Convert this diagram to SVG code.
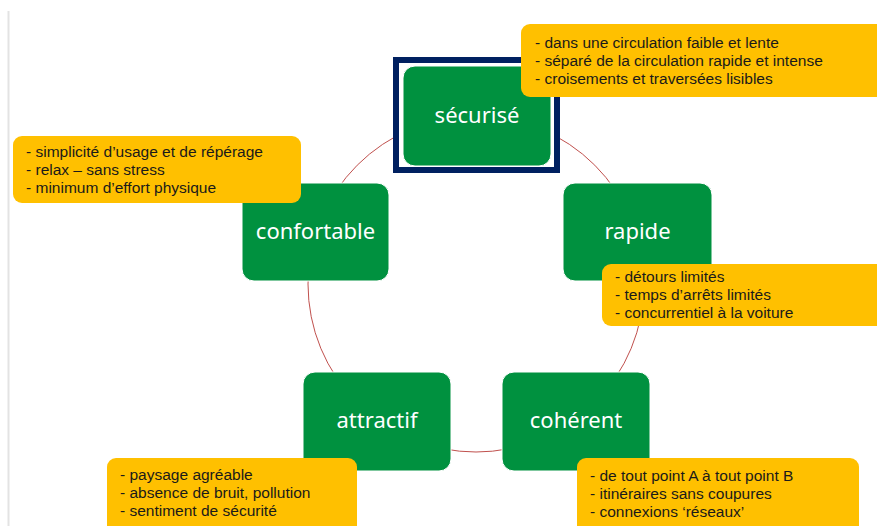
<svg xmlns="http://www.w3.org/2000/svg" width="877" height="526" viewBox="0 0 877 526">
<style>
.g{fill:#00913f;stroke:#ffffff;stroke-width:1}
.y{fill:#ffc000}
.lbl{font-family:"Noto Sans","Open Sans","Liberation Sans",sans-serif;font-size:22px;fill:#ffffff;text-anchor:middle}
.t{font-family:"Liberation Sans",Arial,sans-serif;font-size:15.5px;fill:#1a1a1a}
</style>
<rect width="877" height="526" fill="#ffffff"/>
<line x1="8.5" y1="11" x2="8.5" y2="526" stroke="#e3e3e3" stroke-width="2"/>
<g id="connectors">
<circle cx="476" cy="284" r="168" fill="none" stroke="#c0504d" stroke-width="1"/>
</g>
<g id="securise">
<rect x="396" y="60" width="161" height="110" fill="#ffffff" stroke="#002060" stroke-width="6"/>
<rect class="g" x="403" y="66" width="148" height="100" rx="12"/>
<text class="lbl" x="477" y="123">sécurisé</text>
</g>
<g id="confortable">
<rect class="g" x="242" y="183" width="147" height="98" rx="12"/>
<text class="lbl" x="315.5" y="239">confortable</text>
</g>
<g id="rapide">
<rect class="g" x="563" y="183" width="149" height="98" rx="12"/>
<text class="lbl" x="637.5" y="239">rapide</text>
</g>
<g id="attractif">
<rect class="g" x="303" y="372" width="148" height="99" rx="12"/>
<text class="lbl" x="377" y="428">attractif</text>
</g>
<g id="coherent">
<rect class="g" x="502" y="372" width="148" height="99" rx="12"/>
<text class="lbl" x="576" y="428">cohérent</text>
</g>
<g id="note-securise">
<rect class="y" x="521" y="24" width="370" height="73" rx="9"/>
<text class="t" x="535" y="48">- dans une circulation faible et lente</text>
<text class="t" x="535" y="66">- séparé de la circulation rapide et intense</text>
<text class="t" x="535" y="84">- croisements et traversées lisibles</text>
</g>
<g id="note-confortable">
<rect class="y" x="13" y="136" width="288" height="67" rx="9"/>
<text class="t" x="26" y="157">- simplicité d’usage et de répérage</text>
<text class="t" x="26" y="175">- relax – sans stress</text>
<text class="t" x="26" y="193">- minimum d’effort physique</text>
</g>
<g id="note-rapide">
<rect class="y" x="602" y="264" width="290" height="62" rx="9"/>
<text class="t" x="615" y="282">- détours limités</text>
<text class="t" x="615" y="300">- temps d’arrêts limités</text>
<text class="t" x="615" y="318">- concurrentiel à la voiture</text>
</g>
<g id="note-attractif">
<rect class="y" x="107" y="458" width="250" height="80" rx="9"/>
<text class="t" x="120" y="480">- paysage agréable</text>
<text class="t" x="120" y="498">- absence de bruit, pollution</text>
<text class="t" x="120" y="516">- sentiment de sécurité</text>
</g>
<g id="note-coherent">
<rect class="y" x="577" y="458" width="282" height="80" rx="9"/>
<text class="t" x="590" y="481">- de tout point A à tout point B</text>
<text class="t" x="590" y="499">- itinéraires sans coupures</text>
<text class="t" x="590" y="517">- connexions ‘réseaux’</text>
</g>
</svg>
